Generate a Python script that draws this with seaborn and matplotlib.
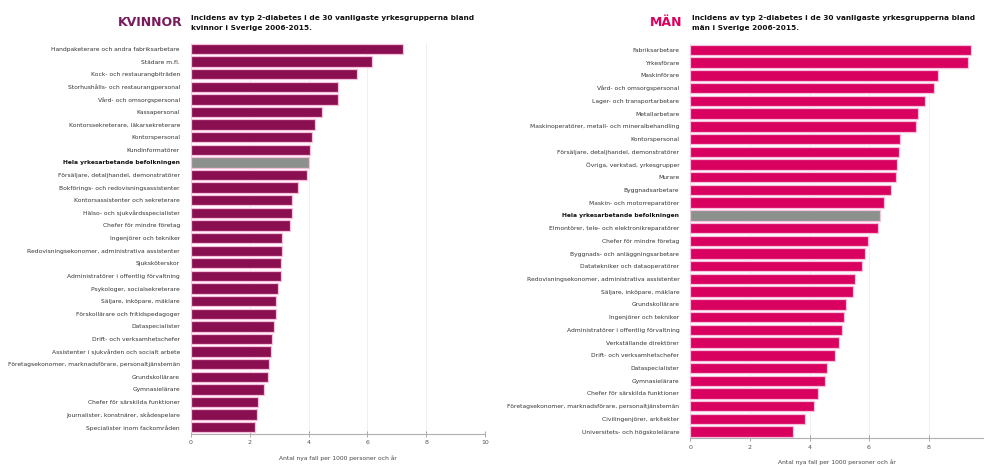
import matplotlib
matplotlib.use("Agg")
import matplotlib.pyplot as plt
import seaborn as sns
import pandas as pd

women_labels = [
    "Handpaketerare och andra fabriksarbetare",
    "Städare m.fl.",
    "Kock- och restaurangbiträden",
    "Storhushålls- och restaurangpersonal",
    "Vård- och omsorgspersonal",
    "Kassapersonal",
    "Kontorssekreterare, läkarsekreterare",
    "Kontorspersonal",
    "Kundinformatörer",
    "Hela yrkesarbetande befolkningen",
    "Försäljare, detaljhandel, demonstratörer",
    "Bokförings- och redovisningsassistenter",
    "Kontorsassistenter och sekreterare",
    "Hälso- och sjukvårdsspecialister",
    "Chefer för mindre företag",
    "Ingenjörer och tekniker",
    "Redovisningsekonomer, administrativa assistenter",
    "Sjuksköterskor",
    "Administratörer i offentlig förvaltning",
    "Psykologer, socialsekreterare",
    "Säljare, inköpare, mäklare",
    "Förskollärare och fritidspedagoger",
    "Dataspecialister",
    "Drift- och verksamhetschefer",
    "Assistenter i sjukvården och socialt arbete",
    "Företagsekonomer, marknadsförare, personaltjänstemän",
    "Grundskollärare",
    "Gymnasielärare",
    "Chefer för särskilda funktioner",
    "Journalister, konstnärer, skådespelare",
    "Specialister inom fackområden",
]
women_values = [7.20, 6.15, 5.64, 4.99, 4.99, 4.44, 4.23, 4.10, 4.06, 4.02, 3.95,
                3.64, 3.45, 3.42, 3.36, 3.10, 3.08, 3.07, 3.07, 2.96, 2.90,
                2.88, 2.81, 2.77, 2.73, 2.65, 2.62, 2.48, 2.28, 2.26, 2.17]

men_labels = [
    "Fabriksarbetare",
    "Yrkesförare",
    "Maskinförare",
    "Vård- och omsorgspersonal",
    "Lager- och transportarbetare",
    "Metallarbetare",
    "Maskinoperatörer, metall- och mineralbehandling",
    "Kontorspersonal",
    "Försäljare, detaljhandel, demonstratörer",
    "Övriga, verkstad, yrkesgrupper",
    "Murare",
    "Byggnadsarbetare",
    "Maskin- och motorreparatörer",
    "Hela yrkesarbetande befolkningen",
    "Elmontörer, tele- och elektronikreparatörer",
    "Chefer för mindre företag",
    "Byggnads- och anläggningsarbetare",
    "Datatekniker och dataoperatörer",
    "Redovisningsekonomer, administrativa assistenter",
    "Säljare, inköpare, mäklare",
    "Grundskollärare",
    "Ingenjörer och tekniker",
    "Administratörer i offentlig förvaltning",
    "Verkställande direktörer",
    "Drift- och verksamhetschefer",
    "Dataspecialister",
    "Gymnasielärare",
    "Chefer för särskilda funktioner",
    "Företagsekonomer, marknadsförare, personaltjänstemän",
    "Civilingenjörer, arkitekter",
    "Universitets- och högskolelärare",
]
men_values = [9.42, 9.34, 8.32, 8.18, 7.88, 7.64, 7.58, 7.04, 7.02, 6.94, 6.91,
              6.73, 6.51, 6.38, 6.29, 5.98, 5.86, 5.76, 5.53, 5.45, 5.23,
              5.17, 5.10, 4.98, 4.87, 4.58, 4.51, 4.28, 4.16, 3.85, 3.45]

total_label = "Hela yrkesarbetande befolkningen"
women_title = "Incidens av typ 2-diabetes i de 30 vanligaste yrkesgrupperna bland\nkvinnor i Sverige 2006-2015."
men_title = "Incidens av typ 2-diabetes i de 30 vanligaste yrkesgrupperna bland\nmän i Sverige 2006-2015."
xlabel_text = "Antal nya fall per 1000 personer och år"

sns.set_theme(style="white")
plt.rcParams["font.family"] = ["DejaVu Sans"]

fig = plt.figure(figsize=(9.84, 4.67), dpi=100)
axL = fig.add_axes([0.1941, 0.0717, 0.2988, 0.837])
axR = fig.add_axes([0.7017, 0.0621, 0.2973, 0.8445])

GRAY = "#8c918e"
EDGE = "#f6bfdc"

def draw(ax, labels, values, color, xmax, ticks):
    df = pd.DataFrame({"label": labels, "value": values})
    pal = {l: (GRAY if l == total_label else color) for l in labels}
    sns.barplot(data=df, x="value", y="label", hue="label", palette=pal,
                legend=False, orient="h", ax=ax, width=0.82,
                edgecolor=EDGE, linewidth=0.9, saturation=1)
    ax.set_xlim(0, xmax)
    ax.set_ylim(len(labels) - 0.5, -0.5)
    ax.set_xticks(ticks)
    ax.set_xticklabels([str(t) for t in ticks])
    ax.set_ylabel("")
    ax.set_xlabel(xlabel_text, fontsize=4.3, color="#444444", labelpad=7)
    ax.xaxis.grid(True, color="#ececec", linewidth=0.6)
    ax.set_axisbelow(True)
    for s in ["top", "right", "left"]:
        ax.spines[s].set_visible(False)
    ax.spines["bottom"].set_color("#b0b0b0")
    ax.spines["bottom"].set_linewidth(0.8)
    ax.tick_params(axis="x", direction="inout", length=4, width=0.6,
                   color="#999999", labelsize=4.5, labelcolor="#555555", pad=3,
                   bottom=True)
    ax.tick_params(axis="y", length=0, labelsize=4.3, labelcolor="#333333", pad=8)
    for t in ax.get_yticklabels():
        if t.get_text() == total_label:
            t.set_fontweight("bold")
            t.set_color("#111111")

draw(axL, women_labels, women_values, "#8a0f50", 10, [0, 2, 4, 6, 8, 10])
draw(axR, men_labels, men_values, "#d9015f", 9.83, [0, 2, 4, 6, 8])

fig.text(183 / 984, 1 - 22 / 467, "KVINNOR", ha="right", va="center",
         fontsize=9, fontweight="bold", color="#7b1a5c")
fig.text(191 / 984, 1 - 23 / 467, women_title, ha="left", va="center",
         fontsize=5.3, fontweight="bold", color="#111111", linespacing=1.8)
fig.text(682 / 984, 1 - 22 / 467, "MÄN", ha="right", va="center",
         fontsize=9, fontweight="bold", color="#d9015f")
fig.text(692 / 984, 1 - 23 / 467, men_title, ha="left", va="center",
         fontsize=5.3, fontweight="bold", color="#111111", linespacing=1.8)

fig.savefig("out.png", dpi=100)
